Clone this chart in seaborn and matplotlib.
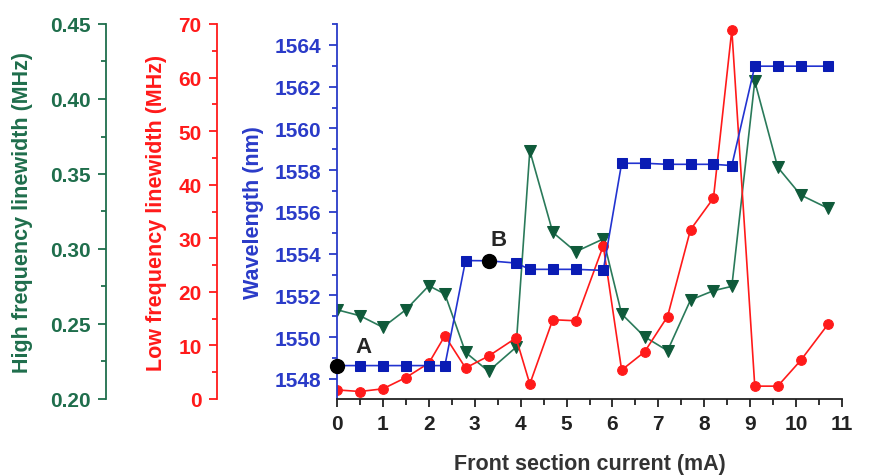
import numpy as np
import pandas as pd
import matplotlib
matplotlib.use("Agg")
import matplotlib.pyplot as plt
import seaborn as sns
from matplotlib.ticker import MultipleLocator

# ---- data ----
current = [0.0, 0.5, 1.0, 1.5, 2.0, 2.35, 2.8, 3.3, 3.9, 4.2, 4.7, 5.2, 5.8,
           6.2, 6.7, 7.2, 7.7, 8.2, 8.6, 9.1, 9.6, 10.1, 10.7]
wavelength = [1548.64, 1548.64, 1548.64, 1548.64, 1548.64, 1548.64, 1553.67, 1553.66,
              1553.55, 1553.25, 1553.25, 1553.25, 1553.2,
              1558.33, 1558.33, 1558.28, 1558.28, 1558.28, 1558.22,
              1562.98, 1562.98, 1562.98, 1562.98]
low_lw = [1.7, 1.4, 1.9, 4.0, 6.7, 11.8, 5.8, 8.0, 11.4, 2.8, 14.8, 14.6, 28.6,
          5.4, 8.8, 15.4, 31.6, 37.5, 68.9, 2.4, 2.4, 7.2, 14.0]
high_lw = [0.2595, 0.2555, 0.2478, 0.2595, 0.2755, 0.270, 0.2311, 0.2185, 0.2345,
           0.3655, 0.3111, 0.2982, 0.3067, 0.2567, 0.2415, 0.2322, 0.266, 0.2722,
           0.2751, 0.4118, 0.3545, 0.336, 0.3271]
special_x = [0.0, 3.3]
special_y = [1548.64, 1553.66]
special_labels = ["A", "B"]

df = pd.DataFrame({"current": current, "wavelength": wavelength,
                   "low": low_lw, "high": high_lw})

sns.set_theme(style="ticks")
plt.rcParams['font.family'] = ['Liberation Sans', 'DejaVu Sans']
plt.rcParams['font.weight'] = 'bold'

BLUE_T = '#2a3bc8'
BLUE_M = '#0a1cb4'
RED = '#ff1a1a'
GREEN_T = '#1f6e4c'
GREEN_L = '#2a7a5a'
GREEN_M = '#0f5a3a'

W, H = 877, 477
fig = plt.figure(figsize=(W / 100, H / 100), dpi=100)
ax = fig.add_axes([337 / W, 77 / H, 505 / W, 375 / H])
ax_red = ax.twinx()
ax_grn = ax.twinx()

# green (high frequency)
sns.lineplot(data=df, x="current", y="high", ax=ax_grn, color=GREEN_L, lw=1.2,
             marker='v', markersize=8, markerfacecolor=GREEN_M,
             markeredgecolor=GREEN_M, sort=False)
# red (low frequency)
sns.lineplot(data=df, x="current", y="low", ax=ax_red, color=RED, lw=1.2,
             marker='o', markersize=7, markerfacecolor=RED,
             markeredgecolor=RED, sort=False)
# blue wavelength on main axis, drawn on top by z-order trick
ax.set_zorder(3)
ax.patch.set_visible(False)
ax_red.set_zorder(2)
ax_grn.set_zorder(1)
sns.lineplot(data=df, x="current", y="wavelength", ax=ax, color='#2233d0', lw=1.2,
             marker='s', markersize=7, markerfacecolor=BLUE_M,
             markeredgecolor=BLUE_M, sort=False)
ax.plot(special_x, special_y, 'o', color='black', markersize=10, clip_on=False, zorder=5)
ax.text(0.58, 1549.55, special_labels[0], fontsize=16, fontweight='bold', ha='center', va='center')
ax.text(3.52, 1554.7, special_labels[1], fontsize=16, fontweight='bold', ha='center', va='center')

ax.set_xlim(0, 11)
ax.set_ylim(1547.04, 1565.0)
ax_red.set_ylim(0, 70)
ax_grn.set_ylim(0.20, 0.45)
ax_red.set_xlim(0, 11)
ax_grn.set_xlim(0, 11)

# spines
for a in (ax, ax_red, ax_grn):
    a.spines['top'].set_visible(False)
    a.spines['right'].set_visible(False)
for a in (ax_red, ax_grn):
    a.spines['bottom'].set_visible(False)
    a.yaxis.set_ticks_position('left')
    a.yaxis.set_label_position('left')
    a.spines['left'].set_visible(True)
ax_red.spines['left'].set_position(('axes', -0.238))
ax_grn.spines['left'].set_position(('axes', -0.457))

ax.spines['left'].set_color(BLUE_T)
ax.spines['bottom'].set_color('#222222')
ax_red.spines['left'].set_color(RED)
ax_grn.spines['left'].set_color(GREEN_T)
for a in (ax, ax_red, ax_grn):
    for s in a.spines.values():
        s.set_linewidth(1.3)

# ticks
ax.xaxis.set_major_locator(MultipleLocator(1))
ax.xaxis.set_minor_locator(MultipleLocator(0.5))
ax.yaxis.set_major_locator(MultipleLocator(2))
ax.yaxis.set_minor_locator(MultipleLocator(1))
ax_red.yaxis.set_major_locator(MultipleLocator(10))
ax_red.yaxis.set_minor_locator(MultipleLocator(5))
ax_grn.yaxis.set_major_locator(MultipleLocator(0.05))
ax_grn.yaxis.set_minor_locator(MultipleLocator(0.025))
ax_grn.yaxis.set_major_formatter(matplotlib.ticker.FormatStrFormatter('%.2f'))

ax.tick_params(axis='x', which='major', direction='out', length=6, width=1.3,
               colors='#222222', labelsize=15, pad=5)
ax.tick_params(axis='x', which='minor', direction='out', length=4, width=1.3, colors='#222222')
ax.tick_params(axis='y', which='major', direction='out', length=6, width=1.3,
               color=BLUE_T, labelcolor=BLUE_T, labelsize=15, pad=5)
ax.tick_params(axis='y', which='minor', direction='out', length=3.5, width=1.3, color=BLUE_T)
ax_red.tick_params(axis='y', which='major', direction='out', length=6, width=1.3,
                   color=RED, labelcolor=RED, labelsize=15, pad=5, left=True, right=False,
                   labelleft=True, labelright=False)
ax_red.tick_params(axis='y', which='minor', direction='out', length=3.5, width=1.3, color=RED,
                   left=True, right=False)
ax_grn.tick_params(axis='y', which='major', direction='out', length=6, width=1.3,
                   color=GREEN_T, labelcolor=GREEN_T, labelsize=15, pad=5, left=True,
                   right=False, labelleft=True, labelright=False)
ax_grn.tick_params(axis='y', which='minor', direction='out', length=3.5, width=1.3, color=GREEN_T,
                   left=True, right=False)
for a in (ax_red, ax_grn):
    a.tick_params(axis='x', which='both', bottom=False, labelbottom=False)
for lab in ax.get_xticklabels() + ax.get_yticklabels() + ax_red.get_yticklabels() + ax_grn.get_yticklabels():
    lab.set_fontweight('bold')

# labels
ax.set_xlabel("Front section current (mA)", fontsize=15.5, fontweight='bold',
              color='#333333', labelpad=14)
ax.set_ylabel("Wavelength (nm)", fontsize=15.5, fontweight='bold', color=BLUE_T)
ax_red.set_ylabel("Low frequency linewidth (MHz)", fontsize=15.5, fontweight='bold', color=RED)
ax_grn.set_ylabel("High frequency linewidth (MHz)", fontsize=15.5, fontweight='bold', color=GREEN_T)
ax.yaxis.set_label_coords(-0.1446, 0.5)
ax_red.yaxis.set_label_coords(-0.3366, 0.5)
ax_grn.yaxis.set_label_coords(-0.602, 0.5)
for a in (ax, ax_red, ax_grn):
    a.yaxis.label.set_verticalalignment('bottom')

fig.savefig("out.png", dpi=100)
